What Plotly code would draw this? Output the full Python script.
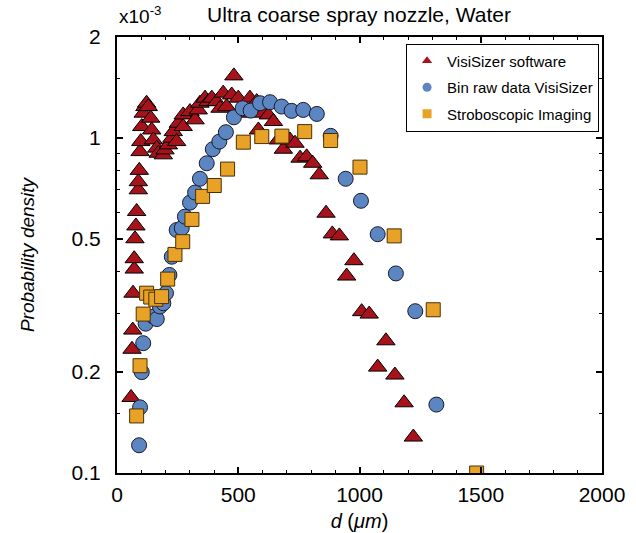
import plotly.graph_objects as go

# VisiSizer software (triangles), x in um, y in 1e-3
tri_x = [58, 62, 65, 66, 71, 71, 74, 78, 81, 88, 88, 92, 95, 98, 102, 108, 115, 122, 129, 139,
         143, 150, 164, 170, 191, 198, 212, 226, 232, 246, 253, 273, 273, 301, 322, 335, 342,
         363, 376, 391, 411, 425, 438, 452, 473, 482, 500, 528, 548, 576, 583, 603, 624, 645,
         665, 686, 713, 734, 755, 782, 807, 834, 862, 888, 917, 947, 977, 1009, 1040, 1075,
         1109, 1146, 1184, 1222]
tri_y = [0.168, 0.234, 0.267, 0.344, 0.406, 0.436, 0.50, 0.546, 0.603, 0.70, 0.74, 0.80, 0.910,
         0.975, 1.081, 1.185, 1.240, 1.269, 1.240, 1.145, 1.056, 0.986, 0.932, 0.900, 0.890,
         0.921, 0.953, 0.998, 1.044, 0.975, 1.106, 1.081, 1.171, 1.198, 1.132, 1.212, 1.269,
         1.314, 1.283, 1.314, 1.283, 1.226, 1.360, 1.240, 1.343, 1.531, 1.314, 1.185, 1.314,
         1.283, 1.056, 1.185, 1.171, 1.119, 0.986, 0.925, 0.986, 0.964, 0.870, 0.878, 0.840,
         0.776, 0.596, 0.517, 0.510, 0.387, 0.430, 0.303, 0.298, 0.207, 0.248, 0.196, 0.162,
         0.128]

# Bin raw data VisiSizer (circles)
cir_x = [91, 95, 102, 108, 118, 150, 164, 177, 191, 202, 216, 226, 246, 267, 280, 301, 322,
         342, 370, 395, 422, 449, 482, 518, 551, 590, 631, 679, 720, 768, 824, 881, 943, 1006,
         1075, 1150, 1230, 1317]
cir_y = [0.121, 0.157, 0.200, 0.244, 0.279, 0.293, 0.288, 0.314, 0.321, 0.344, 0.390, 0.442,
         0.531, 0.538, 0.582, 0.641, 0.687, 0.755, 0.840, 0.925, 0.975, 1.040, 1.152, 1.226,
         1.206, 1.269, 1.278, 1.240, 1.204, 1.212, 1.179, 1.014, 0.755, 0.649, 0.516, 0.394,
         0.304, 0.160]

# Stroboscopic Imaging (squares)
sq_x = [81, 95, 108, 122, 139, 160, 184, 209, 239, 271, 309, 353, 401, 456, 521, 597, 680, 774,
        881, 1002, 1143, 1304, 1483]
sq_y = [0.148, 0.209, 0.298, 0.344, 0.335, 0.330, 0.336, 0.379, 0.449, 0.490, 0.571, 0.669,
        0.721, 0.807, 0.971, 1.009, 1.012, 1.044, 0.982, 0.818, 0.510, 0.307, 0.100]

names = ["VisiSizer software", "Bin raw data VisiSizer", "Stroboscopic Imaging"]
x_tickvals = [0, 500, 1000, 1500, 2000]
y_tickvals = [0.1, 0.2, 0.5, 1, 2]
y_ticktext = ["0.1", "0.2", "0.5", "1", "2"]
y_minor = [0.15, 0.3, 0.4, 0.6, 0.7, 0.8, 0.9, 1.5]

RED = "#A8121A"
BLUE = "#5B86C2"
ORANGE = "#E9A228"

fig = go.Figure()
fig.add_trace(go.Scatter(x=tri_x, y=tri_y, mode="markers", showlegend=False,
                         marker=dict(symbol="triangle-up", size=16, color=RED,
                                     line=dict(color="black", width=1))))
fig.add_trace(go.Scatter(x=cir_x, y=cir_y, mode="markers", showlegend=False,
                         marker=dict(symbol="circle", size=15, color=BLUE,
                                     line=dict(color="#1a1a2a", width=1))))
fig.add_trace(go.Scatter(x=sq_x, y=sq_y, mode="markers", showlegend=False,
                         marker=dict(symbol="square", size=14, color=ORANGE,
                                     line=dict(color="#4a3000", width=1))))
# legend-only entries with small symbols
for nm, sym, col, g in zip(names, ["triangle-up", "circle", "square"], [RED, BLUE, ORANGE],
                           ["a", "b", "c"]):
    fig.add_trace(go.Scatter(x=[None], y=[None], mode="markers", name=nm, legendgroup=g,
                             marker=dict(symbol=sym, size=9, color=col)))

fig.update_layout(
    width=636, height=533,
    margin=dict(l=117, r=34, t=37, b=60, autoexpand=False),
    paper_bgcolor="white", plot_bgcolor="white",
    font=dict(family="Liberation Sans, Arial, sans-serif", size=20, color="black"),
    title=dict(text="Ultra coarse spray nozzle, Water", x=0.5645, xanchor="center",
               y=0.972, yanchor="middle", font=dict(size=21)),
    legend=dict(x=0.596, y=0.985, xanchor="left", yanchor="top",
                bordercolor="black", borderwidth=1, bgcolor="white",
                font=dict(size=15), tracegroupgap=4, traceorder="grouped",
                itemsizing="trace"),
    annotations=[dict(text="x10<sup>-3</sup>", xref="paper", yref="paper", x=0.0, y=1.0,
                      xanchor="left", yanchor="bottom", yshift=8, showarrow=False,
                      font=dict(size=19))],
)
fig.update_xaxes(range=[0, 2000], tickvals=x_tickvals,
                 ticks="inside", ticklen=6, tickwidth=1.5, tickcolor="black",
                 showline=True, linecolor="black", linewidth=2, mirror="ticks",
                 showgrid=False, zeroline=False, ticklabelstandoff=2,
                 tickfont=dict(size=21),
                 minor=dict(dtick=100, ticks="inside", ticklen=3, tickcolor="black", tickwidth=1),
                 title=dict(text="<i>d</i> (<i>μm</i>)", standoff=9, font=dict(size=20)))
fig.update_yaxes(type="log", range=[-1, 0.30103], tickvals=y_tickvals, ticktext=y_ticktext,
                 ticks="inside", ticklen=6, tickwidth=1.5, tickcolor="black",
                 showline=True, linecolor="black", linewidth=2, mirror="ticks",
                 showgrid=False, zeroline=False, ticklabelstandoff=10,
                 tickfont=dict(size=21),
                 minor=dict(tickvals=y_minor, ticks="inside", ticklen=3, tickcolor="black", tickwidth=1),
                 title=dict(text="<i>Probability density</i>", standoff=32, font=dict(size=19)))

# remove the browser's default 8px body margin so the figure fills the window
fig.write_html("out.html", config={"displayModeBar": False},
               post_script="document.body.style.margin='0px';")
